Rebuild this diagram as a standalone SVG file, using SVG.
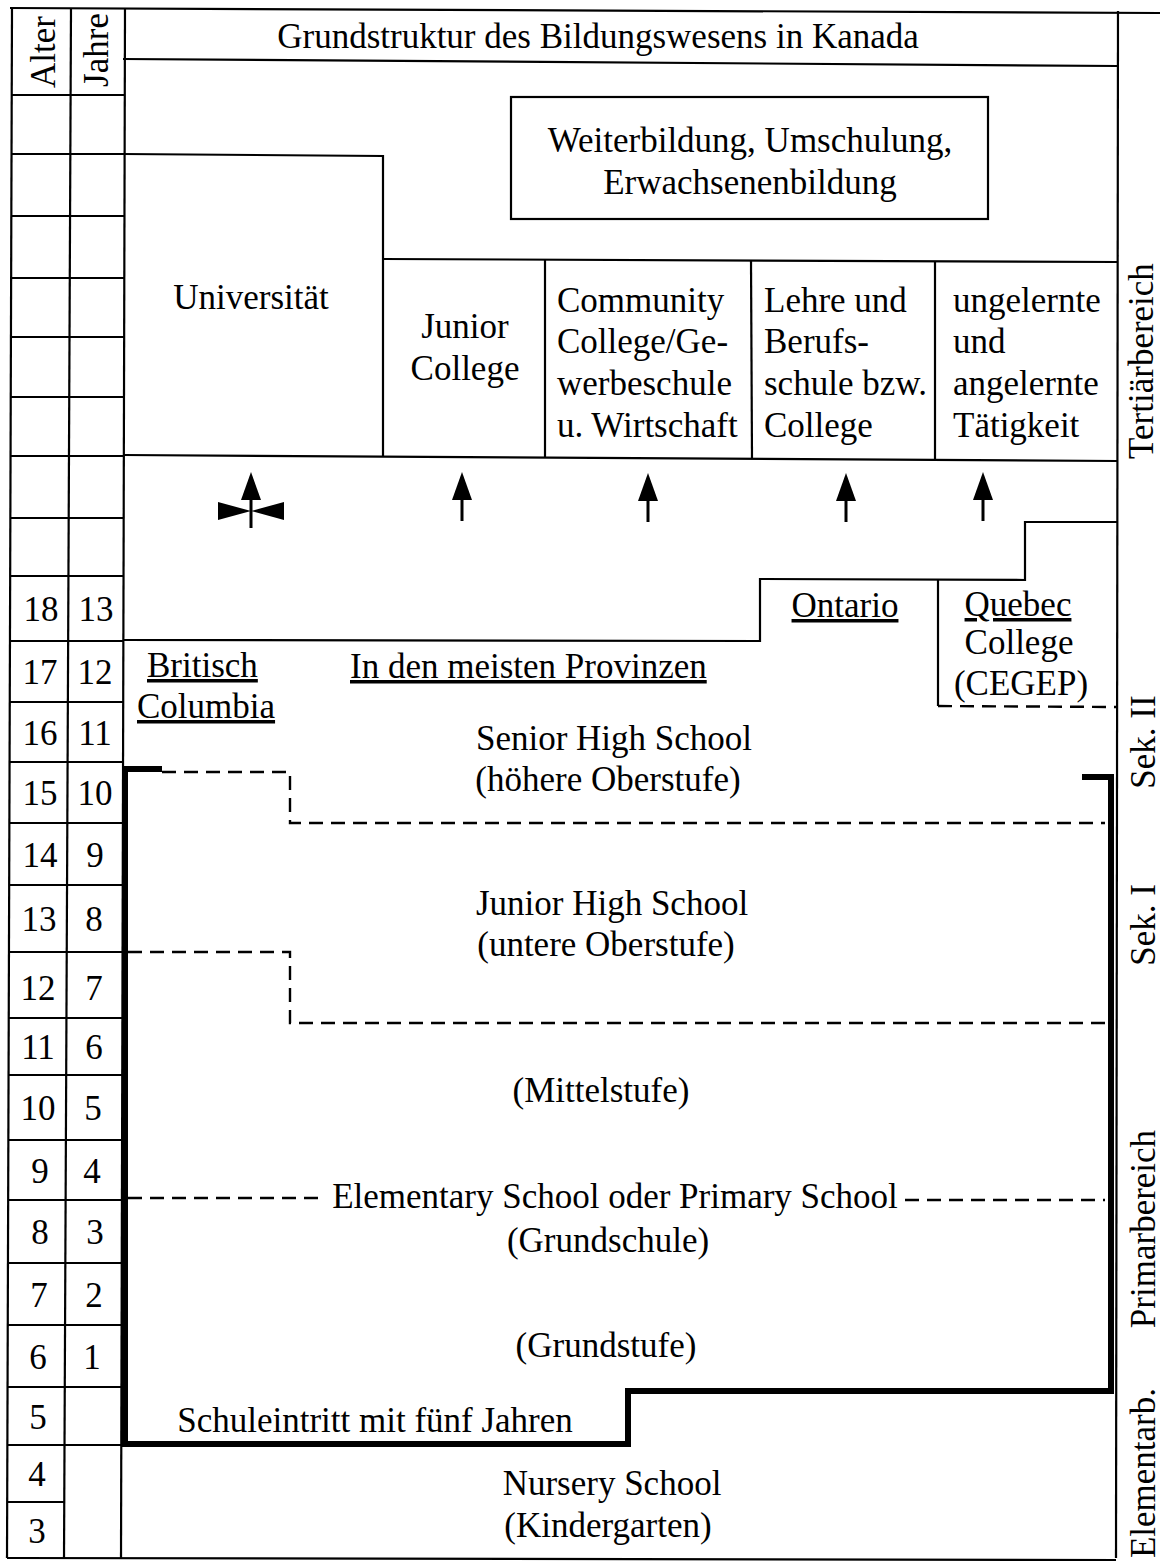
<svg xmlns="http://www.w3.org/2000/svg" width="1160" height="1561" viewBox="0 0 1160 1561">
<style>
text{font-family:"Liberation Serif","Times New Roman",serif;font-size:35px;fill:#000}
.c{text-anchor:middle}
.ln{stroke:#000;stroke-width:2.2;fill:none}
.dash{stroke:#000;stroke-width:2.4;fill:none;stroke-dasharray:14 8}
.thick{stroke:#000;stroke-width:6;fill:none;stroke-linejoin:miter}
.u{text-decoration:underline}
.arr{stroke:#000;stroke-width:3}
</style>
<defs>
<marker id="ah" viewBox="0 0 28 20" refX="0" refY="10" markerWidth="28" markerHeight="20" markerUnits="userSpaceOnUse" orient="auto">
<path d="M0,0 L28,10 L0,20 Z" fill="#000"/>
</marker>
</defs>
<rect width="1160" height="1561" fill="#fff"/>

<g id="frame" class="ln">
<line x1="10" y1="8" x2="1160" y2="13"/>
<line x1="12" y1="8" x2="7" y2="1558"/>
<line x1="71" y1="8" x2="64" y2="1558"/>
<line x1="125" y1="8" x2="121" y2="1558"/>
<line x1="1118" y1="11" x2="1116" y2="1558"/>
<line x1="7" y1="1558" x2="1116" y2="1560"/>
<line x1="123" y1="59" x2="1118" y2="66"/>
</g>

<g id="age-grid" class="ln">
<line x1="11" y1="95" x2="125" y2="95"/>
<line x1="11" y1="154" x2="125" y2="154"/>
<line x1="11" y1="216" x2="124" y2="216"/>
<line x1="11" y1="278" x2="124" y2="278"/>
<line x1="11" y1="337" x2="124" y2="337"/>
<line x1="10" y1="397" x2="124" y2="397"/>
<line x1="10" y1="456" x2="124" y2="456"/>
<line x1="10" y1="518" x2="124" y2="518"/>
<line x1="10" y1="576" x2="124" y2="576"/>
<line x1="10" y1="641" x2="124" y2="641"/>
<line x1="10" y1="702" x2="124" y2="702"/>
<line x1="10" y1="762" x2="123" y2="762"/>
<line x1="10" y1="823" x2="123" y2="823"/>
<line x1="9" y1="885" x2="123" y2="885"/>
<line x1="9" y1="952" x2="123" y2="952"/>
<line x1="9" y1="1018" x2="123" y2="1018"/>
<line x1="9" y1="1075" x2="123" y2="1075"/>
<line x1="9" y1="1140" x2="122" y2="1140"/>
<line x1="8" y1="1200" x2="122" y2="1200"/>
<line x1="8" y1="1263" x2="122" y2="1263"/>
<line x1="8" y1="1325" x2="122" y2="1325"/>
<line x1="8" y1="1387" x2="122" y2="1387"/>
<line x1="8" y1="1445" x2="122" y2="1445"/>
<line x1="8" y1="1502" x2="65" y2="1502"/>
</g>

<g id="age-labels">
<text transform="translate(55,52) rotate(-90)" class="c">Alter</text>
<text transform="translate(108,50) rotate(-90)" class="c">Jahre</text>
<text x="41" y="621" class="c">18</text><text x="96" y="621" class="c">13</text>
<text x="40" y="684" class="c">17</text><text x="95" y="684" class="c">12</text>
<text x="40" y="745" class="c">16</text><text x="95" y="745" class="c">11</text>
<text x="40" y="805" class="c">15</text><text x="95" y="805" class="c">10</text>
<text x="40" y="867" class="c">14</text><text x="95" y="867" class="c">9</text>
<text x="39" y="931" class="c">13</text><text x="94" y="931" class="c">8</text>
<text x="38" y="1000" class="c">12</text><text x="94" y="1000" class="c">7</text>
<text x="38" y="1059" class="c">11</text><text x="94" y="1059" class="c">6</text>
<text x="38" y="1120" class="c">10</text><text x="93" y="1120" class="c">5</text>
<text x="40" y="1183" class="c">9</text><text x="92" y="1183" class="c">4</text>
<text x="40" y="1244" class="c">8</text><text x="95" y="1244" class="c">3</text>
<text x="39" y="1307" class="c">7</text><text x="94" y="1307" class="c">2</text>
<text x="38" y="1369" class="c">6</text><text x="92" y="1369" class="c">1</text>
<text x="38" y="1429" class="c">5</text>
<text x="37" y="1486" class="c">4</text>
<text x="37" y="1543" class="c">3</text>
</g>

<g id="title">
<text x="598" y="48" class="c">Grundstruktur des Bildungswesens in Kanada</text>
</g>

<g id="weiterbildung">
<rect x="511" y="97" width="477" height="122" class="ln"/>
<text x="750" y="152" class="c">Weiterbildung, Umschulung,</text>
<text x="750" y="194" class="c">Erwachsenenbildung</text>
</g>

<g id="universitaet">
<polyline points="123,154 383,156 383,457" class="ln"/>
<text x="251" y="309" class="c">Universität</text>
</g>

<g id="tertiary-row" class="ln">
<line x1="383" y1="259" x2="1118" y2="262"/>
<line x1="123" y1="455" x2="1118" y2="461"/>
<line x1="545" y1="260" x2="545" y2="458"/>
<line x1="751" y1="261" x2="752" y2="459"/>
<line x1="935" y1="262" x2="935" y2="460"/>
</g>

<g id="junior-college">
<text x="465" y="338" class="c">Junior</text>
<text x="465" y="380" class="c">College</text>
</g>

<g id="community-college">
<text x="557" y="312">Community</text>
<text x="557" y="353">College/Ge-</text>
<text x="557" y="395">werbeschule</text>
<text x="557" y="437">u. Wirtschaft</text>
</g>

<g id="lehre">
<text x="764" y="312">Lehre und</text>
<text x="764" y="353">Berufs-</text>
<text x="764" y="395">schule bzw.</text>
<text x="764" y="437">College</text>
</g>

<g id="ungelernte">
<text x="953" y="312">ungelernte</text>
<text x="953" y="353">und</text>
<text x="953" y="395">angelernte</text>
<text x="953" y="437">Tätigkeit</text>
</g>

<g id="connectors">
<line x1="251" y1="528" x2="251" y2="500" class="arr" marker-end="url(#ah)"/>
<polygon points="218,502 251,511 218,520"/>
<polygon points="284,502 251,511 284,520"/>
<line x1="462" y1="521" x2="462" y2="500" class="arr" marker-end="url(#ah)"/>
<line x1="648" y1="522" x2="648" y2="501" class="arr" marker-end="url(#ah)"/>
<line x1="846" y1="522" x2="846" y2="501" class="arr" marker-end="url(#ah)"/>
<line x1="983" y1="521" x2="983" y2="500" class="arr" marker-end="url(#ah)"/>
</g>

<g id="provinces">
<polyline points="123,640 760,641 760,579 1025,580 1025,522 1118,522" class="ln"/>
<line x1="938" y1="580" x2="938" y2="706" class="ln"/>
<line x1="938" y1="706" x2="1116" y2="707" class="dash"/>
<text x="845" y="617" class="c u">Ontario</text>
<text x="1018" y="616" class="c u">Quebec</text>
<text x="1019" y="654" class="c">College</text>
<text x="1021" y="695" class="c">(CEGEP)</text>
<text x="147" y="677" class="u">Britisch</text>
<text x="137" y="718" class="u">Columbia</text>
<text x="350" y="678" class="u">In den meisten Provinzen</text>
</g>

<g id="schulpflicht">
<path d="M162,769 H125 V1444 H628 V1391 H1111 V777 H1082" class="thick"/>
</g>

<g id="stufen-grenzen" class="dash">
<path d="M162,772 H290 V823 H1105"/>
<path d="M128,952 H290 V1023 H1105"/>
<path d="M128,1198 H322"/>
<path d="M905,1200 H1105"/>
</g>

<g id="senior-high">
<text x="614" y="750" class="c">Senior High School</text>
<text x="608" y="791" class="c">(höhere Oberstufe)</text>
</g>
<g id="junior-high">
<text x="612" y="915" class="c">Junior High School</text>
<text x="606" y="956" class="c">(untere Oberstufe)</text>
</g>
<g id="mittelstufe">
<text x="601" y="1102" class="c">(Mittelstufe)</text>
</g>
<g id="elementary">
<text x="615" y="1208" class="c">Elementary School oder Primary School</text>
<text x="608" y="1252" class="c">(Grundschule)</text>
</g>
<g id="grundstufe">
<text x="606" y="1357" class="c">(Grundstufe)</text>
</g>
<g id="schuleintritt">
<text x="375" y="1432" class="c">Schuleintritt mit fünf Jahren</text>
</g>
<g id="nursery">
<text x="612" y="1495" class="c">Nursery School</text>
<text x="608" y="1537" class="c">(Kindergarten)</text>
</g>

<g id="bereiche">
<text transform="translate(1153,361) rotate(-90)" class="c">Tertiärbereich</text>
<text transform="translate(1155,742) rotate(-90)" class="c">Sek. II</text>
<text transform="translate(1155,925) rotate(-90)" class="c">Sek. I</text>
<text transform="translate(1155,1229) rotate(-90)" class="c">Primarbereich</text>
<text transform="translate(1155,1473) rotate(-90)" class="c">Elementarb.</text>
</g>
</svg>
